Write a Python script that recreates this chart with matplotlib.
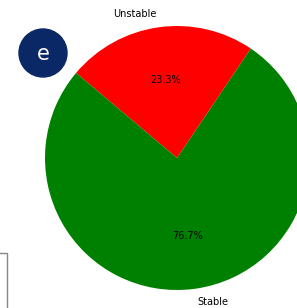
import matplotlib
matplotlib.use('Agg')
import matplotlib.pyplot as plt
from matplotlib.patches import Ellipse, Rectangle

labels = ['Unstable', 'Stable']
shares = [23.3, 76.7]
colors = ['red', 'green']

W, H = 297, 308
fig = plt.figure(figsize=(W / 100, H / 100), dpi=100)

# pie axes: centre at (177, 158) px, radius 132 px
cx, cy, r = 177, 158, 132
ax = fig.add_axes([(cx - r) / W, (H - cy - r) / H, 2 * r / W, 2 * r / H])
ax.pie(shares, labels=labels, colors=colors, autopct='%1.1f%%',
       startangle=56, textprops={'fontsize': 7})
ax.set_xlim(-1, 1)
ax.set_ylim(-1, 1)
ax.set_aspect('auto')
ax.axis('off')

# panel badge
bx, by, br = 43, 53, 24
fig.add_artist(Ellipse((bx / W, 1 - by / H), 2 * br / W, 2 * br / H,
                       transform=fig.transFigure, color='#0b2866'))
fig.text(bx / W, 1 - (by + 1) / H, 'e', color='white', fontsize=15,
         ha='center', va='center')

# corner of neighbouring panel frame
fig.add_artist(Rectangle((-0.1, -0.1), 0.1 + 6.5 / W, 0.1 + 1 - 253 / H,
                         transform=fig.transFigure, fill=False,
                         edgecolor='#888888', lw=1))

fig.savefig('out.png', dpi=100)
